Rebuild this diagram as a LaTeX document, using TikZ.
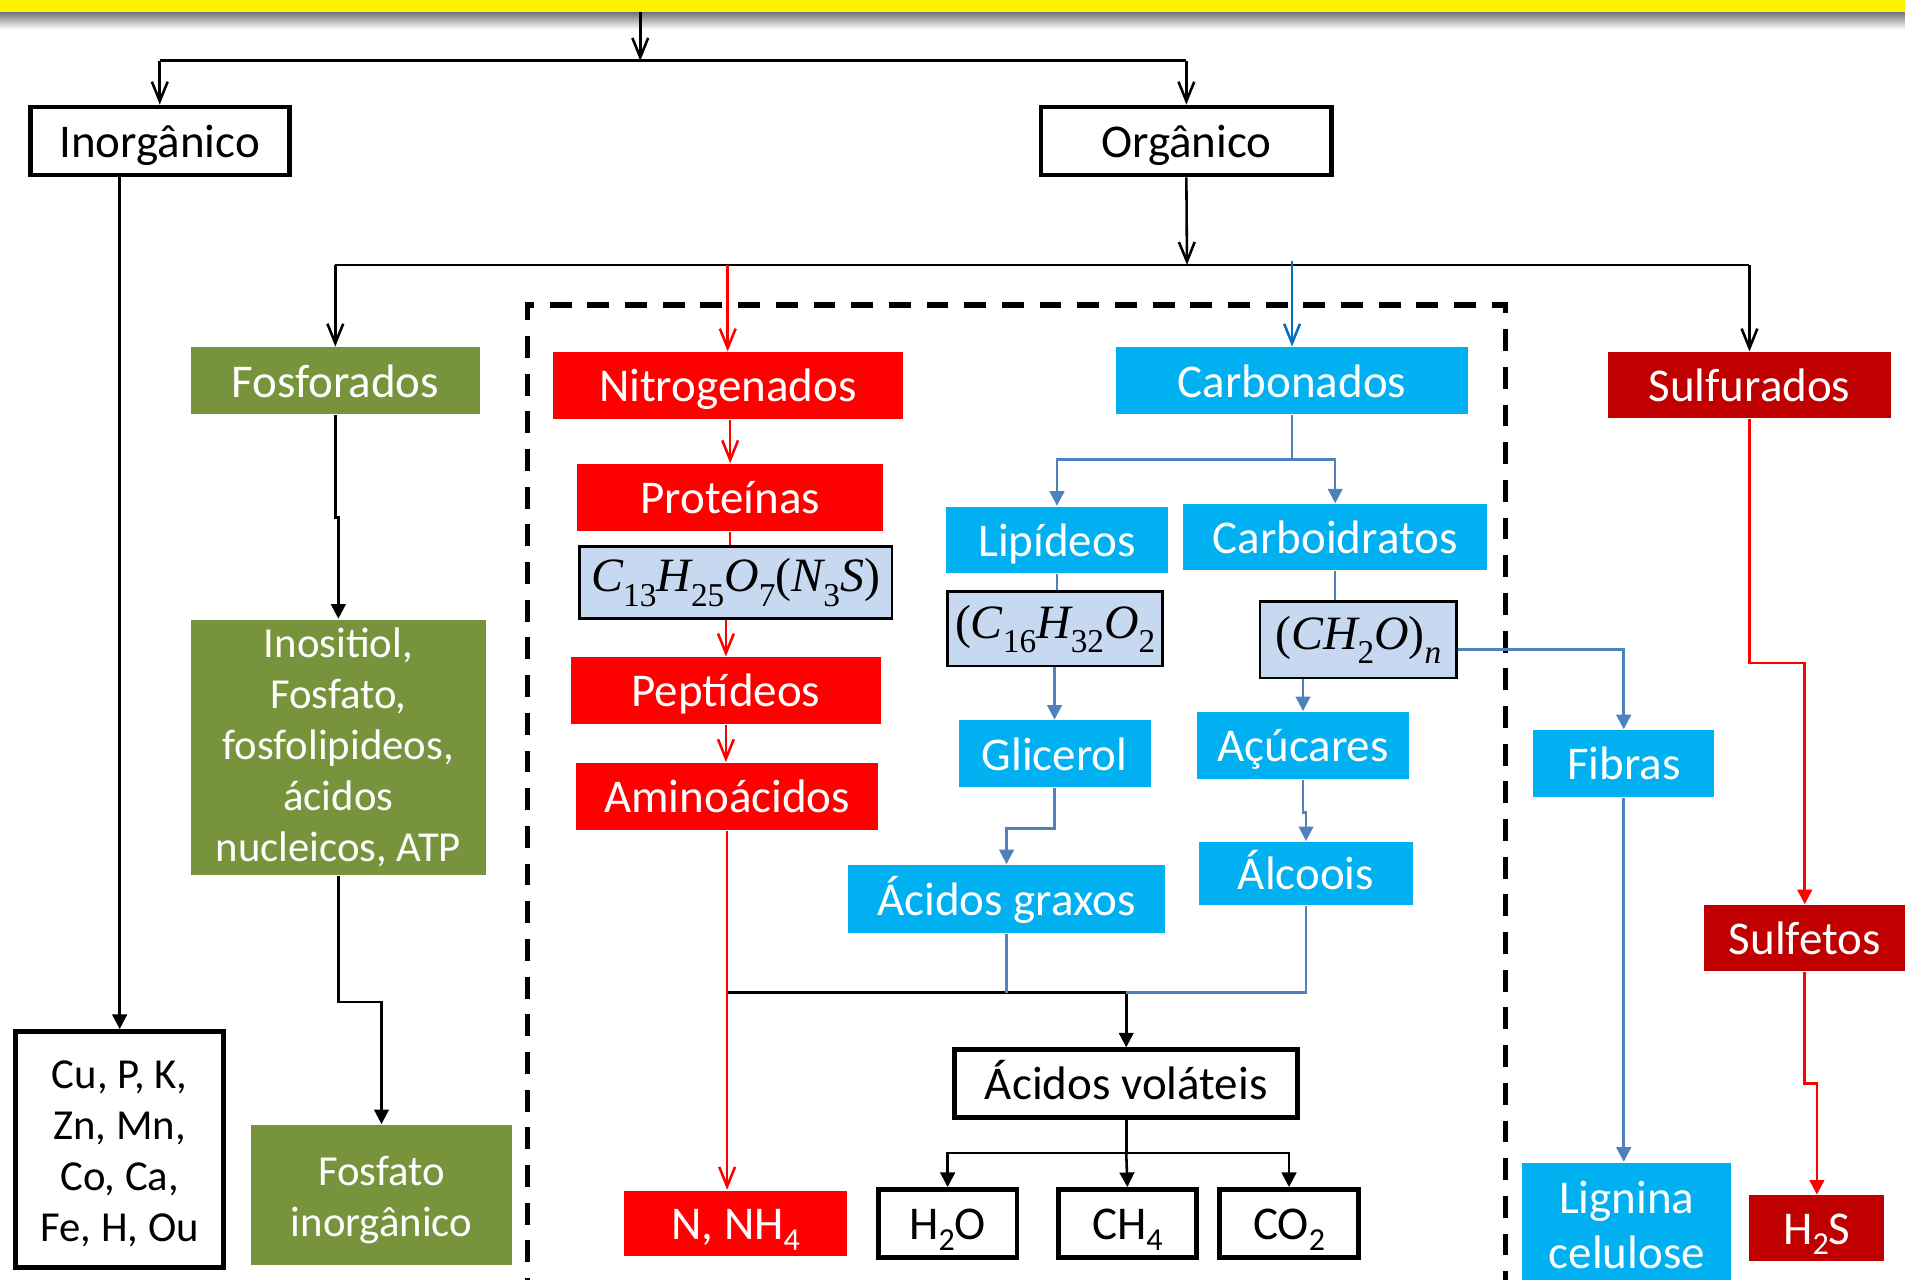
\documentclass[tikz,border=0pt]{standalone}
\usepackage{fontspec}
\setmainfont{Carlito}
\newfontfamily\tnr{Liberation Serif}
\usetikzlibrary{arrows.meta}
\definecolor{cred}{HTML}{FF0000}
\definecolor{dred}{HTML}{C00000}
\definecolor{ccyan}{HTML}{00B0F0}
\definecolor{colive}{HTML}{77933C}
\definecolor{lblue}{HTML}{C6D9F1}
\definecolor{sblue}{HTML}{4F81BD}
\definecolor{bblue}{HTML}{0070C0}
\newcommand\lsub[1]{\raisebox{-0.22em}{\fontsize{7.5}{0}\selectfont #1}}
\newcommand\msub[1]{\raisebox{-0.3em}{\upshape\fontsize{7.8}{0}\selectfont #1}}
\begin{document}
\begin{tikzpicture}[x=0.01cm,y=-0.01cm,
  font=\fontsize{11}{11.95}\selectfont,
  box/.style={rectangle, inner sep=0pt, align=center, text=white},
  sl/.style={text height=0.88em, text depth=0.12em},
  ml/.style={font=\fontsize{10}{11.95}\selectfont},
  txt/.style={inner sep=0pt, align=center},
  nbox/.style={box, fill=cred},
  sbox/.style={box, fill=dred},
  cbox/.style={box, fill=ccyan},
  obox/.style={box, fill=colive},
  kbox/.style={box, draw=black, line width=1.1pt, fill=white, text=black},
  fbox/.style={box, draw=black, line width=0.6pt, fill=lblue, text=black, font=\fontsize{11.2}{12}\selectfont},
  con/.style={line width=0.6pt},
  oa/.style={con, -{Straight Barb[length=1.6mm,width=1.3mm]}},
  fa/.style={con, -{Triangle[length=1.2mm,width=1.2mm]}}
]
\clip (0,0) rectangle (1568,1053);
\fill[yellow] (0,0) rectangle (1568,10);
\shade[top color=black!55, bottom color=white] (0,10) rectangle (1568,24);

% nodes
\node[kbox, sl, minimum width=2.13cm, minimum height=0.56cm] (inorg) at (131.5,116) {Inorgânico};
\node[kbox, sl, minimum width=2.39cm, minimum height=0.56cm] (org) at (976.5,116) {Orgânico};
\node[obox, sl, minimum width=2.38cm, minimum height=0.55cm] (fos) at (276,313.5) {Fosforados};
\node[obox, ml, minimum width=2.43cm, minimum height=2.10cm] (inos) at (278.5,615) {Inositiol,\\Fosfato,\\fosfolipideos,\\ácidos\\nucleicos, ATP};
\node[obox, minimum width=2.14cm, minimum height=1.15cm] (fosinorg) at (314,983.5) {};
\node[txt, ml, text=white] (fosinorgt) at (314,987.5) {Fosfato\\inorgânico};
\node[kbox, minimum width=1.71cm, minimum height=1.94cm] (cu) at (98.5,946) {};
\node[txt, ml, text=black] (cut) at (98.5,950) {Cu, P, K,\\Zn, Mn,\\Co, Ca,\\Fe, H, Ou};

\node[nbox, sl, minimum width=2.88cm, minimum height=0.55cm] (nitro) at (599,317.5) {Nitrogenados};
\node[nbox, sl, minimum width=2.52cm, minimum height=0.55cm] (prot) at (601,409.5) {Proteínas};
\node[fbox, minimum width=2.57cm, minimum height=0.59cm] (fprot) at (605.5,479.5) {\tnr\itshape C\msub{13}H\msub{25}O\msub{7}\upshape(\itshape N\msub{3}S\upshape)};
\node[nbox, sl, minimum width=2.55cm, minimum height=0.55cm] (pept) at (597.5,568.5) {Peptídeos};
\node[nbox, sl, minimum width=2.49cm, minimum height=0.55cm] (amino) at (598.5,655.5) {Aminoácidos};
\node[nbox, sl, minimum width=1.83cm, minimum height=0.54cm] (nnh) at (605.5,1007) {N, NH\lsub{4}};

\node[cbox, sl, minimum width=2.89cm, minimum height=0.55cm] (carb) at (1063.5,313.5) {Carbonados};
\node[cbox, sl, minimum width=1.82cm, minimum height=0.55cm] (lip) at (870,444.5) {Lipídeos};
\node[cbox, sl, minimum width=2.50cm, minimum height=0.54cm] (carbo) at (1099,442) {Carboidratos};
\node[fbox, minimum width=1.77cm, minimum height=0.61cm] (flip) at (868.5,517.5) {\tnr\upshape(\itshape C\msub{16}H\msub{32}O\msub{2}};
\node[cbox, sl, minimum width=1.58cm, minimum height=0.55cm] (glic) at (868,620.5) {Glicerol};
\node[cbox, sl, minimum width=2.61cm, minimum height=0.56cm] (acgr) at (828.5,740) {Ácidos graxos};
\node[fbox, minimum width=1.62cm, minimum height=0.63cm] (fch) at (1118,526.5) {\tnr\upshape(\itshape CH\msub{2}O\upshape)\raisebox{-0.3em}{\itshape\fontsize{7.8}{0}\selectfont n}};
\node[cbox, sl, minimum width=1.75cm, minimum height=0.55cm] (acu) at (1072.5,613.5) {Açúcares};
\node[cbox, sl, minimum width=1.76cm, minimum height=0.52cm] (alc) at (1075,719) {Álcoois};
\node[cbox, sl, minimum width=1.49cm, minimum height=0.55cm] (fib) at (1336.5,628.5) {Fibras};
\node[cbox, minimum width=1.72cm, minimum height=1.03cm, font=\fontsize{11}{12.8}\selectfont] (lig) at (1339,1008.5) {Lignina\\celulose};

\node[sbox, sl, minimum width=2.32cm, minimum height=0.54cm] (sulf) at (1440,317) {Sulfurados};
\node[sbox, sl, minimum width=1.65cm, minimum height=0.54cm] (sulfe) at (1485.5,772) {Sulfetos};
\node[sbox, sl, minimum width=1.11cm, minimum height=0.54cm] (h2s) at (1495.5,1011) {H\lsub{2}S};

\node[kbox, sl, minimum width=2.82cm, minimum height=0.56cm] (acvol) at (927,892) {Ácidos voláteis};
\node[kbox, sl, minimum width=1.14cm, minimum height=0.56cm] (h2o) at (780,1007) {H\lsub{2}O};
\node[kbox, sl, minimum width=1.14cm, minimum height=0.56cm] (ch4) at (928,1007) {CH\lsub{4}};
\node[kbox, sl, minimum width=1.14cm, minimum height=0.56cm] (co2) at (1061,1007) {CO\lsub{2}};

% dashed frame
\coordinate (dtl) at (434,251);
\coordinate (dtr) at (1239,251);
\draw[line width=1.2pt, dash pattern=on 0.18cm off 0.13cm] (434,1070) -- (dtl) -- (dtr) -- (1239,1070);

% top level
\coordinate (top) at (527,10);
\coordinate (s1) at (527,50);
\coordinate (s2) at (977,218);
\draw[oa] (top) -- (s1);
\draw[con] (inorg.north |- s1) -- (org.north |- s1);
\draw[oa] (inorg.north |- s1) -- (inorg.north);
\draw[oa] (org.north |- s1) -- (org.north);
\draw[fa] (cu.north |- inorg.south) -- (cu.north);
\draw[oa] (org.south) -- (s2);
\draw[con] (fos.north |- s2) -- (sulf.north |- s2);
\draw[oa] (fos.north |- s2) -- (fos.north);
\draw[oa] (sulf.north |- s2) -- (sulf.north);
\draw[oa, cred] (nitro.north |- s2) -- (nitro.north);
\draw[oa, bblue] ([yshift=0.03cm]carb.north |- s2) -- (carb.north);

% fosforados
\draw[fa] (fos.south) -- ++(0,84) -| (inos.north);
\draw[fa] (inos.south) -- ++(0,104) -| (fosinorg.north);

% nitrogenados
\draw[oa, cred] (nitro.south -| prot.north) -- (prot.north);
\draw[con, cred] (prot.south) -- (prot.south |- fprot.north);
\draw[oa, cred] (fprot.south -| pept.north) -- (pept.north);
\draw[oa, cred] (pept.south) -- (pept.south |- amino.north);
\coordinate (jv) at (927,817);
\draw[con] (amino.south |- jv) -- (jv);
\draw[oa, cred] (amino.south) -- (amino.south |- nnh.north);
\draw[fa] (jv) -- (acvol.north);

% carbonados
\coordinate (cb) at (1063.5,378);
\draw[con, sblue] (carb.south) -- (cb);
\draw[fa, sblue] (cb) -| (lip.north);
\draw[fa, sblue] (cb) -| (carbo.north);
\draw[con, sblue] (lip.south) -- (lip.south |- flip.north);
\draw[fa, sblue] (flip.south -| glic.north) -- (glic.north);
\draw[fa, sblue] (glic.south) -- ++(0,33) -| (acgr.north);
\draw[con, sblue] (acgr.south) -- (acgr.south |- jv);
\draw[con, sblue] (carbo.south) -- (carbo.south |- fch.north);
\draw[fa, sblue] (acu.north |- fch.south) -- (acu.north);
\draw[fa, sblue] (acu.south) -- ++(0,27) -| (alc.north);
\draw[con, sblue] (alc.south) |- (jv);
\draw[fa, sblue] ([yshift=-0.08cm]fch.east) -| (fib.north);
\draw[fa, sblue] (fib.south) -- (fib.south |- lig.north);

% sulfurados
\draw[fa, cred] (sulf.south) -- ++(0,201) -| (sulfe.north);
\draw[fa, cred] (sulfe.south) -- ++(0,92) -| (h2s.north);

% acidos volateis
\coordinate (ja) at (927,949);
\draw[con] (acvol.south) -- (ja);
\draw[fa] (ja) -| (h2o.north);
\draw[fa] (ja) -| (co2.north);
\draw[fa] (ja) -- (ch4.north);
\end{tikzpicture}
\end{document}
